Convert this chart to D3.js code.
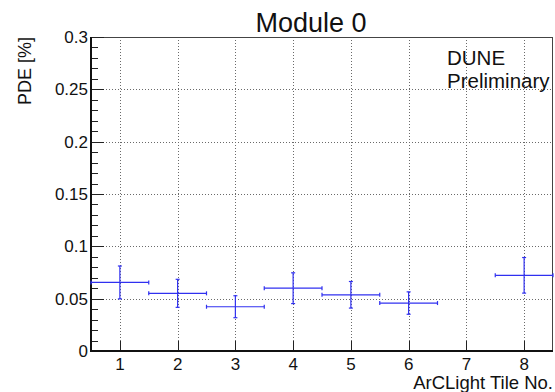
<!DOCTYPE html>
<html>
<head>
<meta charset="utf-8">
<script src="https://cdn.jsdelivr.net/npm/d3@7"></script>
<style>
  html, body { margin: 0; padding: 0; background: #fff; }
  svg { display: block; font-family: "Liberation Sans", Arial, sans-serif; }
</style>
</head>
<body>
<svg id="chart" width="555" height="392"></svg>
<script>
// ArCLight tile photon detection efficiency, Module 0
const tiles = [1, 2, 3, 4, 5, 6, 8];
const pde = [0.0655, 0.0551, 0.0423, 0.0600, 0.0537, 0.0458, 0.0723];
const pdeErr = [0.0157, 0.0134, 0.0105, 0.0147, 0.0127, 0.0107, 0.0170];
const tileHalfWidth = 0.5;
const xTickLabels = ["1", "2", "3", "4", "5", "6", "7", "8"];
const yTickLabels = ["0", "0.05", "0.1", "0.15", "0.2", "0.25", "0.3"];

const svg = d3.select("#chart");
const W = 555, H = 392;
const m = { left: 91, right: 2, top: 37, bottom: 41 };
const x0 = m.left, x1 = W - m.right, y0 = H - m.bottom, y1 = m.top;

const x = d3.scaleLinear().domain([0.5, 8.5]).range([x0, x1]);
const y = d3.scaleLinear().domain([0, 0.3]).range([y0, y1]);

const yMajor = yTickLabels.map(Number);
const yMinor = d3.range(0, 0.3001, 0.01).map(v => +v.toFixed(3));
const xMajor = xTickLabels.map(Number);

// dotted grid
const grid = svg.append("g").attr("stroke", "#6a6a6a").attr("stroke-width", 1)
  .attr("stroke-dasharray", "1,2");
grid.selectAll(".gx").data(xMajor).join("line")
  .attr("x1", d => Math.round(x(d)) + 0.5).attr("x2", d => Math.round(x(d)) + 0.5)
  .attr("y1", y1).attr("y2", y0);
grid.selectAll(".gy").data(yMajor.filter(v => v > 0)).join("line")
  .attr("x1", x0).attr("x2", x1)
  .attr("y1", d => Math.round(y(d)) + 0.5).attr("y2", d => Math.round(y(d)) + 0.5);

// frame: top and right
svg.append("line").attr("x1", x0).attr("x2", x1).attr("y1", y1 + 0.5).attr("y2", y1 + 0.5)
  .attr("stroke", "#444").attr("stroke-width", 1);
svg.append("line").attr("x1", x1 - 0.5).attr("x2", x1 - 0.5).attr("y1", y1).attr("y2", y0)
  .attr("stroke", "#444").attr("stroke-width", 1);

// y axis with inward major/minor ticks
const yAxis = svg.append("g");
yAxis.selectAll(".ymin").data(yMinor).join("line")
  .attr("x1", x0).attr("x2", d => x0 + (yMajor.some(v => Math.abs(v - d) < 1e-9) ? 13 : 7))
  .attr("y1", d => Math.round(y(d)) + 0.5).attr("y2", d => Math.round(y(d)) + 0.5)
  .attr("stroke", "#222").attr("stroke-width", 1);
yAxis.append("line").attr("x1", x0).attr("x2", x0).attr("y1", y1).attr("y2", y0 + 1)
  .attr("stroke", "#111").attr("stroke-width", 2);
yAxis.selectAll("text").data(yTickLabels).join("text")
  .attr("x", x0 - 3).attr("y", d => y(+d)).attr("dy", "0.36em")
  .attr("text-anchor", "end").attr("font-size", 17).attr("fill", "#111")
  .text(d => d);

// x axis with upward ticks
const xAxis = svg.append("g");
xAxis.selectAll(".xt").data(xMajor).join("line")
  .attr("x1", d => Math.round(x(d)) + 0.5).attr("x2", d => Math.round(x(d)) + 0.5)
  .attr("y1", y0).attr("y2", y0 - 10)
  .attr("stroke", "#222").attr("stroke-width", 1);
xAxis.append("line").attr("x1", x0 - 1).attr("x2", x1).attr("y1", y0).attr("y2", y0)
  .attr("stroke", "#111").attr("stroke-width", 2);
xAxis.selectAll("text").data(xTickLabels).join("text")
  .attr("x", d => x(+d)).attr("y", y0 + 19)
  .attr("text-anchor", "middle").attr("font-size", 17).attr("fill", "#111")
  .text(d => d);

// data points with x and y error bars
const pts = tiles.map((t, i) => ({ t, v: pde[i], e: pdeErr[i] }));
const blue = "#3030f0";
const cap = 2;
const eb = svg.append("g").attr("stroke", blue).attr("stroke-width", 1.2).attr("fill", "none");
pts.forEach(p => {
  const cx = x(p.t), cy = y(p.v);
  const xl = x(p.t - tileHalfWidth), xr = x(p.t + tileHalfWidth);
  const yt = y(p.v + p.e), yb = y(p.v - p.e);
  eb.append("line").attr("x1", xl).attr("x2", xr).attr("y1", cy).attr("y2", cy);
  eb.append("line").attr("x1", cx).attr("x2", cx).attr("y1", yt).attr("y2", yb);
  eb.append("line").attr("x1", xl).attr("x2", xl).attr("y1", cy - cap).attr("y2", cy + cap);
  eb.append("line").attr("x1", xr).attr("x2", xr).attr("y1", cy - cap).attr("y2", cy + cap);
  eb.append("line").attr("x1", cx - cap).attr("x2", cx + cap).attr("y1", yt).attr("y2", yt);
  eb.append("line").attr("x1", cx - cap).attr("x2", cx + cap).attr("y1", yb).attr("y2", yb);
});

// titles and labels
svg.append("text").attr("x", 311).attr("y", 32).attr("text-anchor", "middle")
  .attr("font-size", 27).attr("fill", "#111").text("Module 0");
svg.append("text").attr("transform", `translate(31,${y1}) rotate(-90)`)
  .attr("text-anchor", "end").attr("font-size", 18).attr("fill", "#111").text("PDE [%]");
svg.append("text").attr("x", x1).attr("y", 389).attr("text-anchor", "end")
  .attr("font-size", 18.5).attr("fill", "#111").text("ArCLight Tile No.");
svg.append("text").attr("x", 447).attr("y", 65).attr("font-size", 20.5).attr("fill", "#111").text("DUNE");
svg.append("text").attr("x", 447).attr("y", 88).attr("font-size", 20.5).attr("fill", "#111").text("Preliminary");
// lower caption, almost entirely below the visible area
svg.append("text").attr("x", 277).attr("y", 412).attr("font-size", 27).attr("fill", "#111").text("Module 0");
</script>
</body>
</html>
